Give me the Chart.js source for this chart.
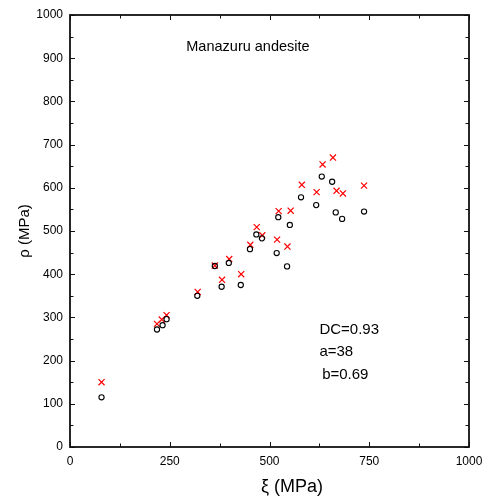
<!DOCTYPE html>
<html>
<head>
<meta charset="utf-8">
<script src="https://cdn.jsdelivr.net/npm/chart.js"></script>
<style>html,body{margin:0;padding:0;background:#fff;}</style>
</head>
<body>
<canvas id="myChart" width="492" height="502"></canvas>
<script>
// open circles
var xiCircle  = [79, 218, 232, 242, 319, 363, 380, 398, 428, 451, 467, 481, 518, 522, 544, 551, 579, 617, 631, 657, 666, 682, 737];
var rhoCircle = [115, 272, 282, 296, 350, 419, 371, 426, 375, 458, 492, 483, 449, 532, 418, 514, 578, 560, 626, 614, 543, 528, 545];
// red crosses
var xiCross  = [79, 218, 230, 242, 320, 363, 381, 399, 429, 452, 468, 482, 519, 523, 545, 553, 581, 618, 633, 659, 668, 684, 737];
var rhoCross = [150, 285, 295, 305, 359, 420, 387, 435, 400, 468, 509, 490, 480, 546, 464, 547, 607, 590, 654, 670, 593, 587, 605];

var xTicks = [0, 250, 500, 750, 1000];
var yTicks = [0, 100, 200, 300, 400, 500, 600, 700, 800, 900, 1000];

var FONT = '"Liberation Sans", Arial, sans-serif';

function toPoints(xs, ys) {
  return xs.map(function(x, i) { return {x: x, y: ys[i]}; });
}

var framePlugin = {
  id: 'frame',
  afterDraw: function(chart) {
    var c = chart.ctx, a = chart.chartArea;
    var sx = chart.scales.x, sy = chart.scales.y;
    c.save();
    c.strokeStyle = '#111';
    c.lineWidth = 1;
    // x ticks (major + minor), inward, bottom and top
    for (var v = 0; v <= 1000; v += 125) {
      var px = Math.round(sx.getPixelForValue(v)) + 0.5;
      var len = (v % 250 === 0) ? 5 : 3.5;
      c.beginPath();
      c.moveTo(px, a.bottom); c.lineTo(px, a.bottom - len);
      c.moveTo(px, a.top); c.lineTo(px, a.top + len);
      c.stroke();
    }
    // y ticks, inward, left and right
    for (var w = 0; w <= 1000; w += 50) {
      var py = Math.round(sy.getPixelForValue(w)) + 0.5;
      var l2 = (w % 100 === 0) ? 5 : 3.5;
      c.beginPath();
      c.moveTo(a.left, py); c.lineTo(a.left + l2, py);
      c.moveTo(a.right, py); c.lineTo(a.right - l2, py);
      c.stroke();
    }
    // frame
    c.lineWidth = 1.8;
    c.strokeRect(a.left, a.top, a.right - a.left, a.bottom - a.top);

    // texts
    c.fillStyle = '#000';
    c.textBaseline = 'middle';
    c.font = '14.5px ' + FONT;
    c.textAlign = 'center';
    c.fillText('Manazuru andesite', sx.getPixelForValue(446), sy.getPixelForValue(925));
    c.font = '15px ' + FONT;
    c.textAlign = 'left';
    c.fillText('DC=0.93', sx.getPixelForValue(625), sy.getPixelForValue(272));
    c.fillText('a=38', sx.getPixelForValue(625), sy.getPixelForValue(221));
    c.fillText('b=0.69', sx.getPixelForValue(632), sy.getPixelForValue(168));

    // axis titles
    c.textAlign = 'center';
    c.font = '18px ' + FONT;
    c.fillText('\u03BE (MPa)', 292, 487);
    c.save();
    c.translate(25, (a.top + a.bottom) / 2);
    c.rotate(-Math.PI / 2);
    c.font = '15px ' + FONT;
    c.fillText('\u03C1 (MPa)', 0, 0);
    c.restore();
    c.restore();
  }
};

var ctx = document.getElementById('myChart').getContext('2d');
var myChart = new Chart(ctx, {
  type: 'scatter',
  data: {
    datasets: [
      {
        label: 'circle',
        data: toPoints(xiCircle, rhoCircle),
        pointStyle: 'circle',
        pointRadius: 2.6,
        borderColor: '#000',
        backgroundColor: 'rgba(0,0,0,0)',
        borderWidth: 1.1
      },
      {
        label: 'cross',
        data: toPoints(xiCross, rhoCross),
        pointStyle: 'crossRot',
        pointRadius: 4.3,
        borderColor: '#ff0000',
        backgroundColor: '#ff0000',
        borderWidth: 1.2
      }
    ]
  },
  options: {
    responsive: false,
    animation: false,
    events: [],
    layout: { padding: { left: 0, top: 15, right: 23, bottom: 0 } },
    plugins: {
      legend: { display: false },
      tooltip: { enabled: false }
    },
    scales: {
      x: {
        type: 'linear',
        min: 0,
        max: 1000,
        afterFit: function(s) { s.height = 55; },
        afterBuildTicks: function(s) { s.ticks = xTicks.map(function(v) { return {value: v}; }); },
        grid: { display: false, drawTicks: false },
        border: { display: false },
        ticks: {
          padding: 7, color: '#000', font: { family: FONT, size: 12 },
          callback: function(value) { return String(value); }
        }
      },
      y: {
        type: 'linear',
        min: 0,
        max: 1000,
        afterFit: function(s) { s.width = 70; },
        afterBuildTicks: function(s) { s.ticks = yTicks.map(function(v) { return {value: v}; }); },
        grid: { display: false, drawTicks: false },
        border: { display: false },
        ticks: {
          padding: 7, color: '#000', font: { family: FONT, size: 12 },
          callback: function(value) { return String(value); }
        }
      }
    }
  },
  plugins: [framePlugin]
});
</script>
</body>
</html>
